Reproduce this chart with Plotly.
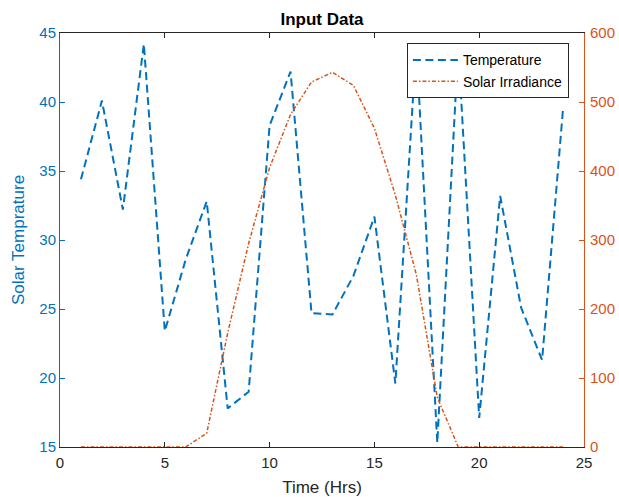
import plotly.graph_objects as go

hours = list(range(1, 25))
temperature = [34.4, 40.1, 32.2, 44.2, 23.4, 28.6, 32.8, 17.8, 19.0, 38.3,
               42.2, 24.7, 24.6, 27.4, 31.7, 19.6, 44.2, 15.3, 44.0, 17.1,
               33.2, 25.1, 21.3, 39.5]
irradiance = [0, 0, 0, 0, 0, 0, 20, 165, 295, 405, 482, 529, 543, 524, 462,
              365, 250, 72, 0, 0, 0, 0, 0, 0]
x_ticks = [0, 5, 10, 15, 20, 25]
left_ticks = [15, 20, 25, 30, 35, 40, 45]
right_ticks = [0, 100, 200, 300, 400, 500, 600]

BLUE = "#0072BD"
ORANGE = "#D95319"
DARK = "#262626"
FONT = "Liberation Sans, Arial, Helvetica, sans-serif"

fig = go.Figure()
fig.add_trace(go.Scatter(
    x=hours, y=temperature, name="Temperature", mode="lines",
    line=dict(color=BLUE, width=2, dash="8px,4.5px"), yaxis="y"))
fig.add_trace(go.Scatter(
    x=hours, y=irradiance, name="Solar Irradiance", mode="lines",
    line=dict(color=ORANGE, width=1.5, dash="4px,2px,1.5px,2px"), yaxis="y2"))

fig.update_layout(
    width=619, height=497,
    margin=dict(l=60, r=35, t=33, b=50, autoexpand=False),
    paper_bgcolor="white", plot_bgcolor="white",
    font=dict(family=FONT, size=15, color=DARK),
    title=dict(text="<b>Input Data</b>", x=322 / 619, xanchor="center",
               y=1 - 19 / 497, yanchor="middle",
               font=dict(size=17, color="black")),
    xaxis=dict(range=[0, 25], tickvals=x_ticks, ticks="inside", ticklen=5,
               tickcolor=DARK, showline=True, linecolor=DARK, linewidth=1,
               mirror="ticks", showgrid=False, zeroline=False, automargin=False,
               ticklabelstandoff=2,
               title=dict(text="Time (Hrs)", font=dict(size=17, color=DARK)),
               tickfont=dict(size=15, color=DARK)),
    yaxis=dict(range=[15, 45], tickvals=left_ticks, ticks="inside", ticklen=5,
               tickcolor=BLUE, showline=True, linecolor=BLUE, linewidth=1,
               showgrid=False, zeroline=False, automargin=False,
               tickfont=dict(size=15, color=BLUE)),
    yaxis2=dict(range=[0, 600], tickvals=right_ticks, ticks="inside", ticklen=5,
                tickcolor=ORANGE, showline=True, linecolor=ORANGE, linewidth=1,
                overlaying="y", side="right", showgrid=False, zeroline=False,
                automargin=False, ticklabelstandoff=2,
                tickfont=dict(size=15, color=ORANGE)),
    legend=dict(x=0.662, y=0.975, xanchor="left", yanchor="top",
                bgcolor="white", bordercolor=DARK, borderwidth=1,
                font=dict(size=14, color="black"),
                tracegroupgap=0, itemwidth=45),
    showlegend=True,
    annotations=[dict(text="Solar Temprature", textangle=-90,
                      xref="paper", yref="paper",
                      x=(18 - 60) / 524, y=0.5, xanchor="center", yanchor="middle",
                      showarrow=False, font=dict(size=17, color=BLUE))],
)

fig.write_html("out.html",
               config={"displayModeBar": False},
               post_script="document.body.style.margin='0';document.body.style.overflow='hidden';")
